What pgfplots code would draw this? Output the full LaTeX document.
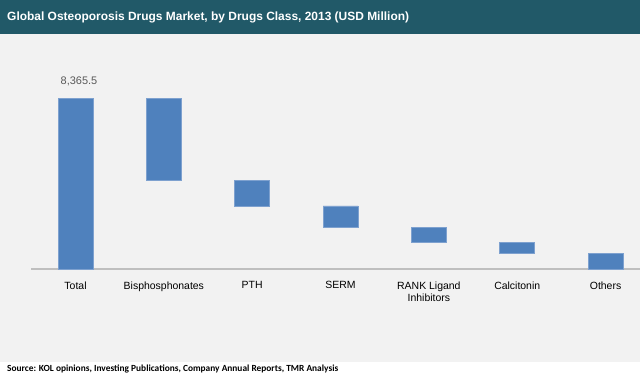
\documentclass[border=0pt]{standalone}
\usepackage{pgfplots}
\pgfplotsset{compat=1.18}
\usepackage{fontspec}
\setmainfont{Liberation Sans}
\newfontfamily\srcfont{Carlito}
\definecolor{titlebar}{HTML}{215968}
\definecolor{bgray}{HTML}{F2F2F2}
\definecolor{barblue}{HTML}{4F81BD}
\definecolor{baredge}{HTML}{7EA1CF}
\definecolor{axgray}{HTML}{BFBFBF}
\definecolor{lblgray}{HTML}{595959}
\begin{document}
\begin{tikzpicture}[x=1bp,y=1bp]
\useasboundingbox (0,0) rectangle (640,379);
% backgrounds
\fill[white] (0,0) rectangle (640,379);
\fill[bgray] (0,17) rectangle (640,345);
\fill[titlebar] (0,345) rectangle (640,379);
\node[anchor=west,text=white,font=\fontsize{12}{14}\selectfont\bfseries,inner sep=0pt] at (7,361.5) {Global Osteoporosis Drugs Market, by Drugs Class, 2013 (USD Million)};
\node[anchor=west,font=\srcfont\fontsize{9.4}{11}\selectfont\bfseries,inner sep=0pt] at (7,10) {Source: KOL opinions, Investing Publications, Company Annual Reports, TMR Analysis};
\begin{axis}[
  at={(31bp,110bp)}, anchor=south west,
  scale only axis, width=609bp, height=170.3bp,
  xmin=-0.504, xmax=6.39, ymin=0, ymax=8365.5,
  clip=false,
  ybar stacked, bar width=0.396,
  axis lines*=left,
  y axis line style={draw=none},
  x axis line style={draw=axgray, line width=2bp, -},
  ytick=\empty,
  xtick={0,1,2,3,4,5,6},
  xticklabels={Total,Bisphosphonates,PTH,SERM,{RANK Ligand\\Inhibitors},Calcitonin,Others},
  major tick length=0pt,
  xticklabel style={font=\fontsize{10.5}{12}\selectfont, align=center, text=black, yshift=-9bp},
]
\addplot[draw=none, fill=none] coordinates {(0,0) (1,4357.5) (2,3095.5) (3,2029.5) (4,1312.5) (5,772.5) (6,0)};
\addplot[fill=barblue, draw=baredge, line width=0.8bp] coordinates {(0,8365.5) (1,4008) (2,1262) (3,1066) (4,717) (5,540) (6,772.5)};
\node[anchor=center, text=lblgray, font=\fontsize{11}{13}\selectfont, inner sep=0pt] at (axis cs:0,8365.5) [xshift=3.5bp, yshift=17bp] {8,365.5};
\end{axis}
\end{tikzpicture}
\end{document}
